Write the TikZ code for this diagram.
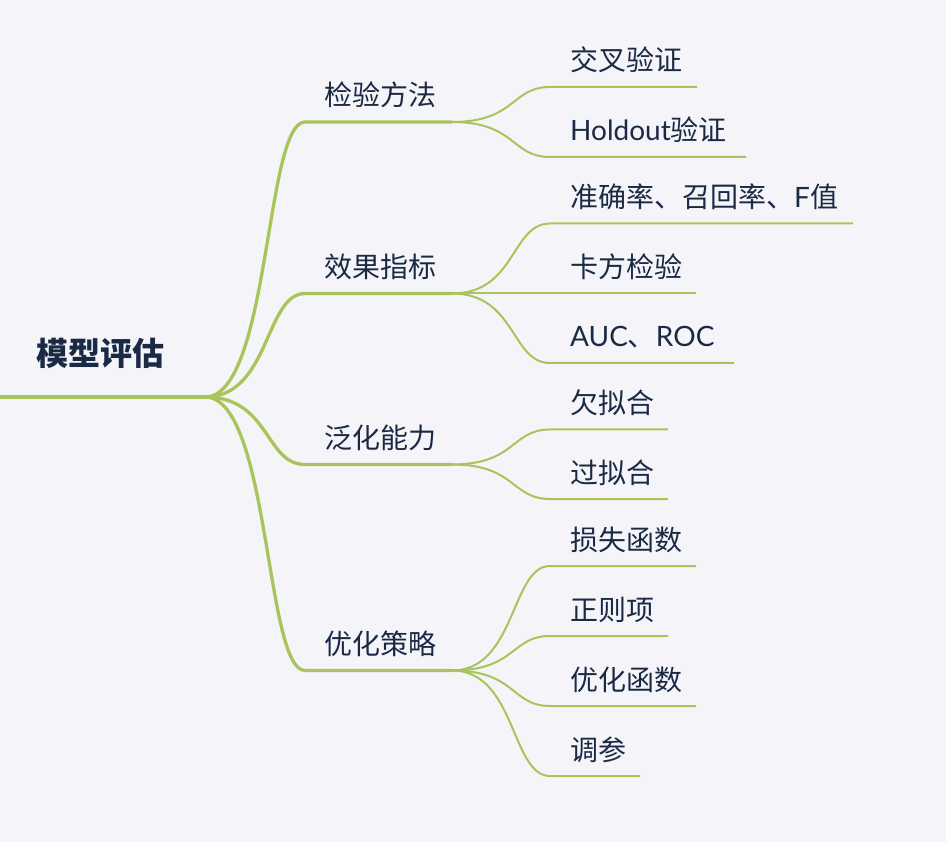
\documentclass[tikz,border=0pt]{standalone}
\usepackage{fontspec}
\setmainfont{Lato}
\newfontfamily\cjk{Noto Sans CJK SC}
\newfontfamily\lat{Lato}
\definecolor{bgc}{HTML}{F5F5F9}
\definecolor{brc}{HTML}{A8C45A}
\definecolor{txc}{HTML}{1B2A44}
\begin{document}
\begin{tikzpicture}[x=1pt,y=-1pt,
  lvone/.style={draw=brc,line width=3.3pt,line join=round},
  lvtwo/.style={draw=brc,line width=2pt,line join=round},
  rootlbl/.style={anchor=base west,inner sep=0pt,text=txc,font=\cjk\bfseries\fontsize{32}{38}\selectfont},
  lbl/.style={anchor=base west,inner sep=0pt,text=txc,font=\cjk\fontsize{28}{33}\selectfont}]
\fill[bgc] (0,0) rectangle (946,842);
\useasboundingbox (0,0) rectangle (946,842);

% root
\node[rootlbl] (root) at (36,366) {模型评估};
\coordinate (r0) at (0,397);
\coordinate (r1) at (205,397);
\draw[lvone] (r0) -- (r1);

% level 1
\foreach \n/\y/\t in {a/122/检验方法, b/293.5/效果指标, c/464.5/泛化能力, d/670.5/优化策略}{
  \coordinate (\n s) at (305,\y);
  \coordinate (\n e) at (452,\y);
  \node[lbl] (\n t) at (324,\y-16) {\t};
  \draw[lvone] (r1) .. controls (270,397) and (265,\y) .. (\n s) -- (\n e);
}

% level 2
\foreach \p/\py/\n/\y/\x/\t in {
  a/122/a1/87/697/交叉验证,
  a/122/a2/157/746/{{\lat Holdout}验证},
  b/293.5/b1/223.5/853/{准确率、召回率、{\lat F}值},
  b/293.5/b2/293.5/696/卡方检验,
  b/293.5/b3/363/734/{{\lat AUC}、{\lat ROC}},
  c/464.5/c1/429.5/668/欠拟合,
  c/464.5/c2/499/668/过拟合,
  d/670.5/d1/566/696/损失函数,
  d/670.5/d2/636/668/正则项,
  d/670.5/d3/706/696/优化函数,
  d/670.5/d4/776/640/调参}{
  \coordinate (\n s) at (550,\y);
  \coordinate (\n e) at (\x,\y);
  \node[lbl] (\n t) at (570,\y-16) {\t};
  \draw[lvtwo] (\p e) .. controls (516,\py) and (511,\y) .. (\n s) -- (\n e);
}
\end{tikzpicture}
\end{document}
